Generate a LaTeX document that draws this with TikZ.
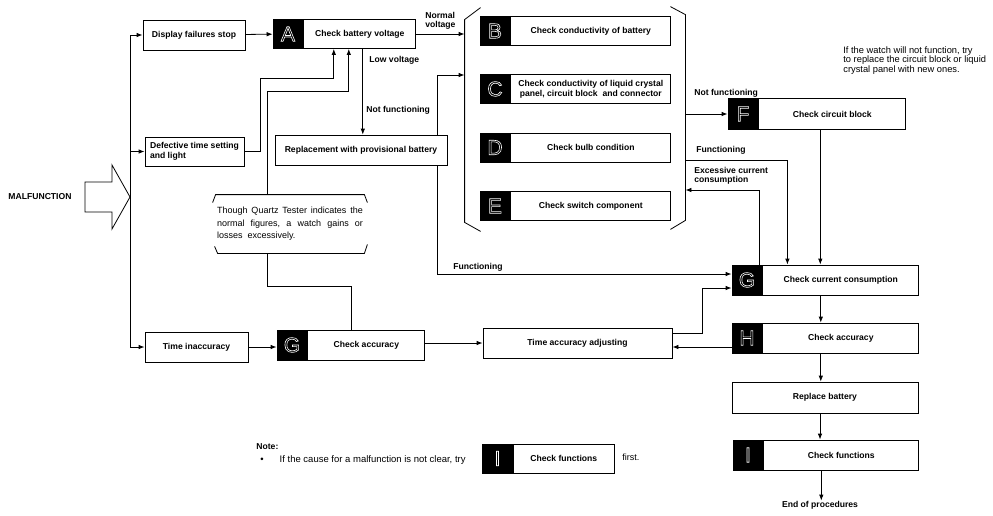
\documentclass[tikz,border=0pt]{standalone}
\usepackage{fontspec}
\setmainfont{Liberation Sans}
\usetikzlibrary{arrows.meta, positioning, fit}

\begin{document}
\begin{tikzpicture}[
  x=1pt, y=-1pt,
  line width=0.8pt,
  step_box/.style={draw, minimum height=29pt, inner sep=2pt, font=\fontsize{8.6}{9.6}\selectfont\bfseries},
  letter_box/.style={draw, fill=black, minimum width=30pt, minimum height=29pt, inner sep=0pt, text=white,
    font=\fontsize{21}{21}\selectfont,
    execute at begin node={\special{pdf:literal direct 1 Tr 0.6 w}},
    execute at end node={\special{pdf:literal direct 0 Tr 0.8 w}}},
  flow_label/.style={font=\fontsize{8.6}{9.5}\selectfont\bfseries, align=left, inner sep=0pt},
  note_text/.style={font=\fontsize{9}{12.5}\selectfont, align=left, inner sep=0pt},
  flow/.style={-{Latex[length=6pt,width=4.5pt]}}
]
\useasboundingbox (0,0) rectangle (993,515);

% input side
\node[flow_label] (malf) at (40,197) {MALFUNCTION};
\draw (85,182) -- (112,182) -- (112,165) -- (130,197) -- (112,229) -- (112,212) -- (85,212) -- cycle;
\node[step_box, minimum width=102pt, minimum height=30pt] (disp) at (194,35) {Display failures stop};
\node[step_box, minimum width=99pt, align=left] (deft) at (194.5,151.5) {Defective time setting\\and light};
\node[step_box, minimum width=103pt, minimum height=30pt] (inacc) at (196.5,347) {Time inaccuracy};
\coordinate (tr1) at (130,35);
\coordinate (tr2) at (130,347);
\draw (tr1) -- (tr2);
\draw[flow] (tr1) -- (disp);
\draw[flow] (tr1 |- deft) -- (deft);
\draw[flow] (tr2) -- (inacc);

% checks A to E
\node[letter_box] (Al) at (288,34) {A};
\node[step_box, minimum width=112pt, right=0pt of Al] (A) {Check battery voltage};
\node[step_box, minimum width=172pt, minimum height=30pt] (repl) at (361,150) {Replacement with provisional battery};
\foreach \n/\y/\txt in {B/31/Check conductivity of battery,
                        C/89/{Check conductivity of liquid crystal\\panel, circuit block\ \ and connector},
                        D/147.5/Check bulb condition,
                        E/206/Check switch component}{
  \node[letter_box] (\n l) at (495,\y) {\n};
  \node[step_box, minimum width=160pt, align=center, right=0pt of \n l] (\n) {\txt};
}
\node[fit={(465,15) (685,225)}, inner sep=0pt] (grp) {};
\draw ([xshift=16pt,yshift=7pt]grp.north west) -- ([yshift=-5pt]grp.north west)
   -- ([yshift=3pt]grp.south west) -- ([xshift=16pt,yshift=-6pt]grp.south west);
\draw ([xshift=-15pt,yshift=8pt]grp.north east) -- (grp.north east)
   -- ([yshift=5pt]grp.south east) -- ([xshift=-15pt,yshift=-4pt]grp.south east);

% quartz tester remark
\node[note_text, text width=146pt, minimum height=58pt] (qnote) at (290,224)
  {\makebox[146pt]{Though\hfill Quartz\hfill Tester\hfill indicates\hfill the}\\
   \makebox[146pt]{normal\hfill figures,\hfill a\hfill watch\hfill gains\hfill or}\\
   losses\hspace{5pt}excessively.};
\draw ([xshift=-4pt,yshift=-8pt]qnote.north west) -- ([xshift=-1pt]qnote.north west)
   -- ([xshift=1pt]qnote.north east) -- ([xshift=4pt,yshift=-8pt]qnote.north east);
\draw ([xshift=-2pt,yshift=7pt]qnote.south west) -- ([xshift=1pt]qnote.south west)
   -- ([xshift=1pt]qnote.south east) -- ([xshift=4pt,yshift=9pt]qnote.south east);

% right column
\node[letter_box, minimum height=31pt] (Fl) at (743,114) {F};
\node[step_box, minimum width=147pt, minimum height=31pt, right=0pt of Fl] (F) {Check circuit block};
\node[letter_box, minimum height=30pt] (Gcl) at (747,280) {G};
\node[step_box, minimum width=156pt, minimum height=30pt, right=0pt of Gcl] (Gc) {Check current consumption};
\node[letter_box, minimum height=30pt] (Hl) at (747,338) {H};
\node[step_box, minimum width=156pt, minimum height=30pt, right=0pt of Hl] (H) {Check accuracy};
\node[step_box, minimum width=186pt, minimum height=31pt] (rbat) at (825,397.5) {Replace battery};
\node[letter_box, minimum height=30pt] (Il) at (748,455) {I};
\node[step_box, minimum width=155pt, minimum height=30pt, right=0pt of Il] (I) {Check functions};
\node[flow_label] (endp) at (820,505) {End of procedures};
\node[note_text, font=\fontsize{9.3}{9.8}\selectfont, anchor=north west] (rnote) at (843,46)
  {If the watch will not function, try\\to replace the circuit block or liquid\\crystal panel with new ones.};

% accuracy line
\node[letter_box, minimum height=30pt] (Gal) at (292,345) {G};
\node[step_box, minimum width=117pt, minimum height=30pt, right=0pt of Gal] (Ga) {Check accuracy};
\node[step_box, minimum width=189pt, minimum height=30pt] (adj) at (577.5,343) {Time accuracy adjusting};

% note
\node[flow_label, anchor=west] (notet) at (256,447) {Note:};
\node[note_text, font=\fontsize{9.5}{12}\selectfont, anchor=west] (notel) at (260,460) {\textbullet\hspace{16pt}If the cause for a malfunction is not clear, try};
\node[letter_box] (Inl) at (497.5,458.5) {I};
\node[step_box, minimum width=101pt, right=0pt of Inl] (In) {Check functions};
\node[note_text, anchor=west] (first) at (622,457) {first.};

% connectors
\draw[flow] (disp) -- (Al);
\draw[flow] (deft.east) -| (260,78) -| ([xshift=-26pt]A.south);
\draw ([xshift=-15pt]Ga.north) -- ++(0,-43) -| ([xshift=-23pt]qnote.south);
\draw[flow] ([xshift=-23pt]qnote.north) -- ++(0,-103) -| ([xshift=-11pt]A.south);
\draw[flow] ([xshift=3pt]A.south) -- ([xshift=3pt]A.south |- repl.north);
\node[flow_label, anchor=west] (lowv) at (369,60) {Low voltage};
\node[flow_label, anchor=west] (nfun1) at (366,110) {Not functioning};
\draw[flow] (A.east) -- (A.east -| grp.west);
\node[flow_label, anchor=west] (normv) at (425,21) {Normal\\voltage};
\draw[flow] ([xshift=-10pt]repl.north east) |- (grp.west |- 0,75);
\draw[flow] ([xshift=-10pt]repl.south east) |- ([yshift=6pt]Gcl.west);
\node[flow_label, anchor=west] (fun1) at (453,267) {Functioning};
\draw[flow] (grp.east |- Fl) -- (Fl);
\node[flow_label, anchor=west] (nfun2) at (694,93) {Not functioning};
\draw[flow] (grp.east |- 0,160) -| ([xshift=25pt]Gc.north west);
\node[flow_label, anchor=west] (fun2) at (696,150) {Functioning};
\draw[flow] ([xshift=-3pt]Gc.north west) |- (grp.east |- 0,190);
\node[flow_label, anchor=west] (exc) at (694,176) {Excessive current\\consumption};
\draw[flow] ([xshift=-12pt]F.south) -- ([xshift=-12pt]F.south |- Gc.north);
\draw[flow] ([xshift=-20pt]Gc.south) -- ([xshift=-20pt]Gc.south |- H.north);
\draw[flow] ([xshift=-20pt]H.south) -- ([xshift=-20pt]H.south |- rbat.north);
\draw[flow] ([xshift=-5pt]rbat.south) -- ([xshift=-5pt]rbat.south |- I.north);
\draw[flow] ([xshift=-20pt]I.south) -- ([xshift=-20pt]I.south |- endp.north);
\draw[flow] (inacc.east) -- (inacc.east -| Gal.west);
\draw[flow] (Ga.east |- adj.west) -- (adj.west);
\draw[flow] ([yshift=10pt]adj.east) -- ++(30,0) |- ([yshift=-8pt]Gcl.west);
\draw[flow] ([yshift=-9pt]Hl.west) -- ([yshift=-9pt]Hl.west -| adj.east);
\end{tikzpicture}
\end{document}
